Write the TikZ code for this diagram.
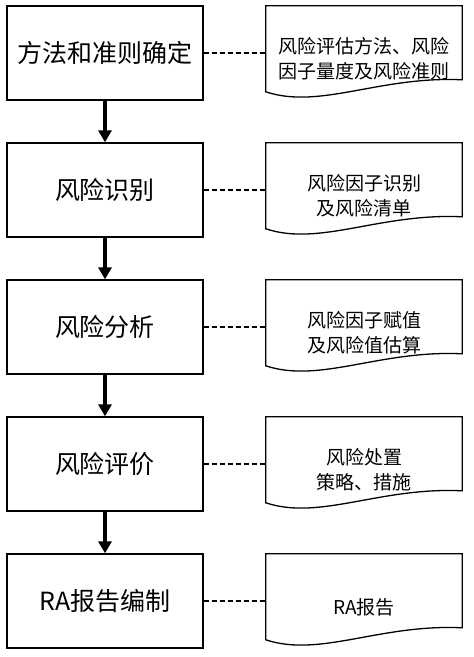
\documentclass[tikz,border=0pt]{standalone}
\usepackage{fontspec}
\setmainfont{Noto Sans CJK SC}
\usetikzlibrary{arrows.meta,calc}
\begin{document}
\begin{tikzpicture}[x=1pt,y=-1pt,
  stepbox/.style={draw, line width=1.3pt, minimum width=196pt, minimum height=94pt, inner sep=0pt, font=\fontsize{25}{30}\selectfont},
  docnode/.style={minimum width=196pt, minimum height=94pt, inner sep=0pt},
  doctext/.style={align=center, inner sep=0pt, font=\fontsize{19}{25}\selectfont},
  docline/.style={line width=1.3pt, line join=miter},
  flow/.style={line width=3.6pt, -{Triangle[width=13pt,length=12pt]}},
  link/.style={line width=1.6pt, dash pattern=on 5.5pt off 2.5pt}]
\fill[white] (0,0) rectangle (474,657);
\useasboundingbox (0,0) rectangle (474,657);

\node[stepbox] (b1) at (105,53)  {方法和准则确定};
\node[stepbox] (b2) at (105,190) {风险识别};
\node[stepbox] (b3) at (105,327) {风险分析};
\node[stepbox] (b4) at (105,464) {风险评价};
\node[stepbox] (b5) at (105,601) {RA报告编制};

\node[docnode] (d1) at (364,53)  {};
\node[docnode] (d2) at (364,190) {};
\node[docnode] (d3) at (364,327) {};
\node[docnode] (d4) at (364,464) {};
\node[docnode] (d5) at (364,601) {};

\foreach \d in {d1,d2,d3,d4,d5}{
  \draw[docline] (\d.north west) -- (\d.north east) -- ($(\d.north east)+(0,74)$)
    .. controls ($(\d.north west)+(114,70)$) and ($(\d.north west)+(54,104)$) ..
    ($(\d.north west)+(0,86)$) -- cycle;
}

\node[doctext] (t1) at ($(d1)+(0,6)$) {风险评估方法、风险\\因子量度及风险准则};
\node[doctext] (t2) at ($(d2)+(0,6)$) {风险因子识别\\及风险清单};
\node[doctext] (t3) at ($(d3)+(0,6)$) {风险因子赋值\\及风险值估算};
\node[doctext] (t4) at ($(d4)+(0,6)$) {风险处置\\策略、措施};
\node[doctext] (t5) at ($(d5)+(0,6)$) {RA报告};

\draw[flow] (b1) -- (b2);
\draw[flow] (b2) -- (b3);
\draw[flow] (b3) -- (b4);
\draw[flow] (b4) -- (b5);

\draw[link] (b1.east) -- (d1.west);
\draw[link] (b2.east) -- (d2.west);
\draw[link] (b3.east) -- (d3.west);
\draw[link] (b4.east) -- (d4.west);
\draw[link] (b5.east) -- (d5.west);
\end{tikzpicture}
\end{document}
